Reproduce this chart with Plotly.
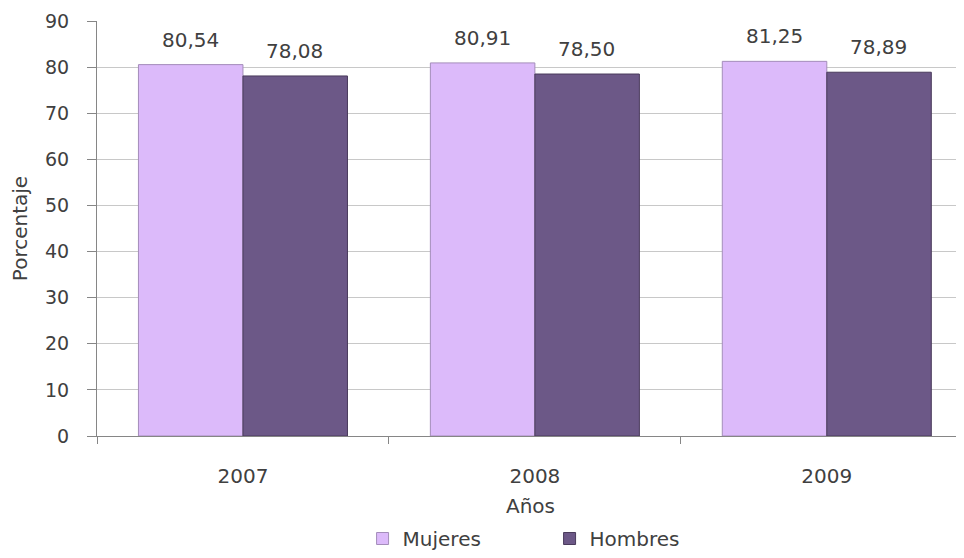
import plotly.graph_objects as go

years = ["2007", "2008", "2009"]
mujeres = [80.54, 80.91, 81.25]
hombres = [78.08, 78.50, 78.89]
y_ticks = [0, 10, 20, 30, 40, 50, 60, 70, 80, 90]

font_family = "DejaVu Sans, Verdana, sans-serif"
txt_color = "#404040"
FS = 20

fig = go.Figure()
fig.add_trace(go.Bar(
    x=years, y=mujeres, name="Mujeres",
    marker=dict(color="#DCBAFA", line=dict(color="#A48DBA", width=1)),
))
fig.add_trace(go.Bar(
    x=years, y=hombres, name="Hombres",
    marker=dict(color="#6C5887", line=dict(color="#4A3B5C", width=1)),
))

# value labels above the bars (positioned on the category axis by index)
def fmt(v):
    return f"{v:.2f}".replace(".", ",")

for series, shift in ((mujeres, -52), (hombres, 52)):
    for i, v in enumerate(series):
        fig.add_annotation(
            x=i, y=v, xref="x", yref="y", text=fmt(v), showarrow=False,
            xshift=shift, yshift=25, yanchor="middle",
            font=dict(size=FS, color=txt_color, family=font_family),
        )

fig.update_layout(
    width=956, height=550,
    margin=dict(l=89, r=0, t=13, b=122),
    paper_bgcolor="white", plot_bgcolor="white",
    barmode="group", bargap=0.284, bargroupgap=0,
    font=dict(family=font_family, size=FS, color=txt_color),
    showlegend=True,
    legend=dict(orientation="h", x=0.522, xanchor="center", y=-0.248, yanchor="middle",
                font=dict(size=FS, color=txt_color), entrywidth=142,
                entrywidthmode="pixels", traceorder="normal"),
    xaxis=dict(
        type="category",
        title=dict(text="Años", standoff=11, font=dict(size=FS, color=txt_color)),
        automargin=False,
        range=[-0.5, 2.47],
        showline=True, linecolor="#868686", linewidth=1,
        ticks="outside", ticklen=7, tickcolor="#868686", tickson="boundaries",
        tickfont=dict(size=FS, color=txt_color), ticklabelstandoff=22,
    ),
    yaxis=dict(
        title=dict(text="Porcentaje", standoff=14, font=dict(size=FS, color=txt_color)),
        automargin=False,
        range=[0, 90], tickvals=y_ticks,
        showline=True, linecolor="#868686", linewidth=1,
        ticks="outside", ticklen=9, tickcolor="#868686",
        showgrid=True, gridcolor="#C8C8C8", gridwidth=1,
        zeroline=False, ticklabeloverflow="allow",
        tickfont=dict(size=19, color=txt_color), ticklabelstandoff=14,
    ),
)

fig.write_html("out.html")
